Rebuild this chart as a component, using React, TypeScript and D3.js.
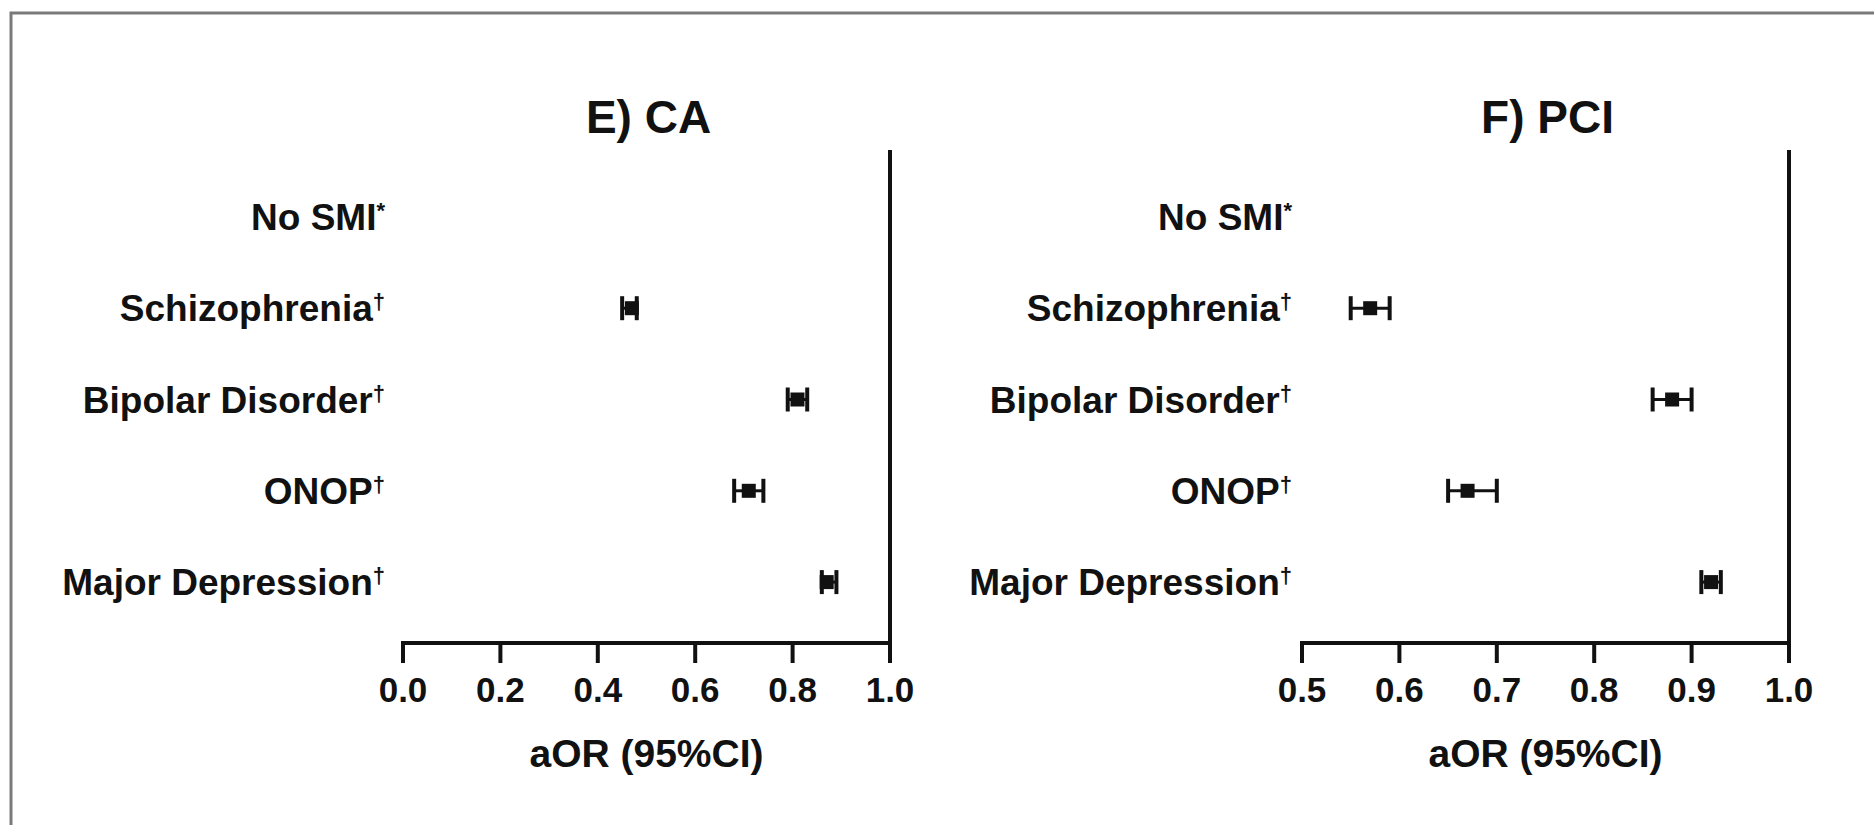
import React, { useEffect, useRef } from 'react';
import * as d3 from 'd3';

// rows (reference group first, no estimate)
const categories = ['No SMI', 'Schizophrenia', 'Bipolar Disorder', 'ONOP', 'Major Depression'];
const superscripts = ['*', '†', '†', '†', '†'];

// E) CA
const caOR = [null, 0.47, 0.81, 0.71, 0.87];
const caLow = [null, 0.45, 0.79, 0.68, 0.86];
const caHigh = [null, 0.48, 0.83, 0.74, 0.89];
const caTicks = [0.0, 0.2, 0.4, 0.6, 0.8, 1.0];

// F) PCI
const pciOR = [null, 0.57, 0.88, 0.67, 0.92];
const pciLow = [null, 0.55, 0.86, 0.65, 0.91];
const pciHigh = [null, 0.59, 0.90, 0.70, 0.93];
const pciTicks = [0.5, 0.6, 0.7, 0.8, 0.9, 1.0];

const W = 1874;
const H = 825;
const FONT = '"Liberation Sans", Arial, Helvetica, sans-serif';

const App = () => {
  const svgRef = useRef(null);

  useEffect(() => {
    const svg = d3.select(svgRef.current);
    svg.selectAll('*').remove();

    // frame of the original figure (top + left edge only)
    svg.append('path')
      .attr('d', `M11,${H} L11,13 L${W},13`)
      .attr('fill', 'none')
      .attr('stroke', '#7a7a7a')
      .attr('stroke-width', 3);

    const plotTop = 150;
    const plotBottom = 643;

    const yScale = d3.scalePoint()
      .domain(categories)
      .range([153, 646])
      .padding(0.7);

    const panels = [
      { title: 'E) CA', domain: [0, 1], range: [403, 890], labelX: 385, or: caOR, lo: caLow, hi: caHigh, ticks: caTicks },
      { title: 'F) PCI', domain: [0.5, 1], range: [1302, 1789], labelX: 1292, or: pciOR, lo: pciLow, hi: pciHigh, ticks: pciTicks }
    ];

    panels.forEach(p => {
      const x = d3.scaleLinear().domain(p.domain).range(p.range);
      const g = svg.append('g');
      const cx = (p.range[0] + p.range[1]) / 2;

      // title
      g.append('text')
        .attr('x', cx + 2)
        .attr('y', 133)
        .attr('text-anchor', 'middle')
        .style('font-family', FONT)
        .style('font-weight', 'bold')
        .style('font-size', '46px')
        .style('fill', '#111')
        .text(p.title);

      // row labels
      categories.forEach((c, i) => {
        const t = g.append('text')
          .attr('x', p.labelX)
          .attr('y', yScale(c) + 13)
          .attr('text-anchor', 'end')
          .style('font-family', FONT)
          .style('font-weight', 'bold')
          .style('font-size', '37px')
          .style('fill', '#111');
        t.append('tspan').text(c);
        t.append('tspan')
          .attr('dy', -12)
          .style('font-size', '22px')
          .text(superscripts[i]);
      });

      // reference line at 1.0
      g.append('line')
        .attr('x1', x(1)).attr('x2', x(1))
        .attr('y1', plotTop).attr('y2', plotBottom + 2)
        .attr('stroke', '#111')
        .attr('stroke-width', 4);

      // x axis
      g.append('line')
        .attr('x1', p.range[0] - 2).attr('x2', p.range[1] + 2)
        .attr('y1', plotBottom).attr('y2', plotBottom)
        .attr('stroke', '#111')
        .attr('stroke-width', 4);

      p.ticks.forEach(t => {
        g.append('line')
          .attr('x1', x(t)).attr('x2', x(t))
          .attr('y1', plotBottom).attr('y2', plotBottom + 20)
          .attr('stroke', '#111')
          .attr('stroke-width', 4);
        g.append('text')
          .attr('x', x(t))
          .attr('y', 702)
          .attr('text-anchor', 'middle')
          .style('font-family', FONT)
          .style('font-weight', 'bold')
          .style('font-size', '35px')
          .style('fill', '#111')
          .text(d3.format('.1f')(t));
      });

      g.append('text')
        .attr('x', cx)
        .attr('y', 767)
        .attr('text-anchor', 'middle')
        .style('font-family', FONT)
        .style('font-weight', 'bold')
        .style('font-size', '39px')
        .style('fill', '#111')
        .text('aOR (95%CI)');

      // estimates with CI whiskers
      const rows = categories
        .map((c, i) => ({ c, or: p.or[i], lo: p.lo[i], hi: p.hi[i] }))
        .filter(d => d.or != null);

      const capH = 24;
      rows.forEach(d => {
        const y = yScale(d.c);
        g.append('line')
          .attr('x1', x(d.lo)).attr('x2', x(d.hi))
          .attr('y1', y).attr('y2', y)
          .attr('stroke', '#111')
          .attr('stroke-width', 3);
        [d.lo, d.hi].forEach(v => {
          g.append('line')
            .attr('x1', x(v)).attr('x2', x(v))
            .attr('y1', y - capH / 2).attr('y2', y + capH / 2)
            .attr('stroke', '#111')
            .attr('stroke-width', 4);
        });
        g.append('rect')
          .attr('x', x(d.or) - 7)
          .attr('y', y - 7)
          .attr('width', 14)
          .attr('height', 14)
          .attr('fill', '#111');
      });
    });
  }, []);

  return (
    <svg
      ref={svgRef}
      width={W}
      height={H}
      style={{ position: 'absolute', left: 0, top: 0, background: '#fff' }}
    />
  );
};

export default App;
